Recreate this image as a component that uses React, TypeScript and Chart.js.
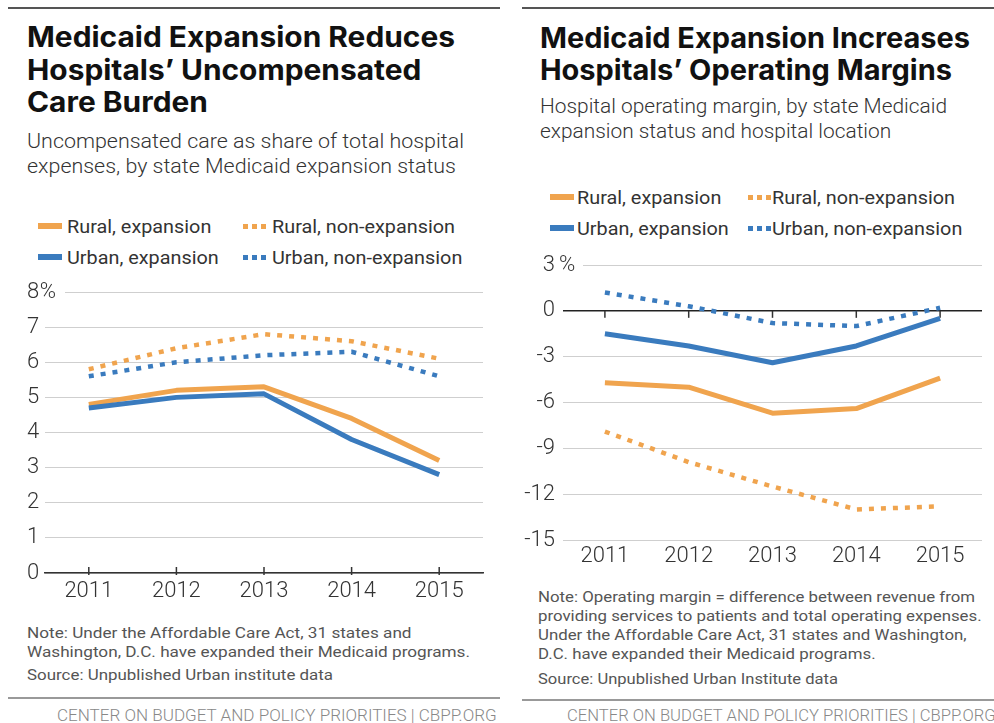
import React, { useEffect, useRef } from 'react';
import { Chart, registerables } from 'chart.js';

Chart.register(...registerables);

// ---------- data ----------
const years = ['2011', '2012', '2013', '2014', '2015'];
const seriesLabels = ['Rural, expansion', 'Rural, non-expansion', 'Urban, expansion', 'Urban, non-expansion'];

// Left: uncompensated care as share of total hospital expenses (%)
const ucRuralExpansion = [4.8, 5.2, 5.3, 4.4, 3.2];
const ucRuralNonExpansion = [5.8, 6.4, 6.8, 6.6, 6.1];
const ucUrbanExpansion = [4.7, 5.0, 5.1, 3.8, 2.8];
const ucUrbanNonExpansion = [5.6, 6.0, 6.2, 6.3, 5.6];
const ucTicks = [0, 1, 2, 3, 4, 5, 6, 7, 8];

// Right: hospital operating margin (%)
const omRuralExpansion = [-4.7, -5.0, -6.7, -6.4, -4.4];
const omRuralNonExpansion = [-7.9, -9.9, -11.5, -13.0, -12.8];
const omUrbanExpansion = [-1.5, -2.3, -3.4, -2.3, -0.5];
const omUrbanNonExpansion = [1.2, 0.3, -0.8, -1.0, 0.2];
const omTicks = [3, 0, -3, -6, -9, -12, -15];

// ---------- styles ----------
const ORANGE = '#F0A44E';
const BLUE = '#3A7BBE';
const TICK_FONT = { family: 'Roboto', size: 22, weight: '300' as const };
const TICK_CSS = '300 22px Roboto';
const TICK_COLOR = '#333';

let mctx: CanvasRenderingContext2D | null = null;
function textWidth(t: string, font: string) {
  if (!mctx) mctx = document.createElement('canvas').getContext('2d');
  mctx!.font = font;
  return mctx!.measureText(t).width;
}

function ds(label: string, data: number[], color: string, dotted: boolean) {
  return {
    label,
    data,
    borderColor: color,
    backgroundColor: color,
    borderWidth: dotted ? 4.5 : 5,
    borderDash: dotted ? [5, 7] : [],
    borderCapStyle: 'butt',
    borderJoinStyle: 'round',
    pointRadius: 0,
    pointHoverRadius: 0,
    tension: 0,
    fill: false,
  };
}

function tickMarks(value: number, up: number, down: number) {
  return {
    id: 'tickMarks',
    beforeDatasetsDraw(chart: any) {
      const { ctx, scales } = chart;
      const x = scales.x;
      const y = scales.y;
      const py = y.getPixelForValue(value);
      ctx.save();
      ctx.strokeStyle = '#333';
      ctx.lineWidth = 1.5;
      years.forEach((_, i) => {
        const px = x.getPixelForValue(i);
        ctx.beginPath();
        ctx.moveTo(px, py - up);
        ctx.lineTo(px, py + down);
        ctx.stroke();
      });
      ctx.restore();
    },
  };
}

// draws the "%" after the top tick label and clears the gridline under it
function percentSign(value: number, side: 'left' | 'right', gap: number, clearTo: number) {
  return {
    id: 'percentSign',
    beforeDatasetsDraw(chart: any) {
      const { ctx, chartArea, scales } = chart;
      const y = scales.y;
      const py = y.getPixelForValue(value);
      ctx.save();
      ctx.font = TICK_CSS;
      let x0: number;
      if (side === 'left') x0 = y.left + ctx.measureText(String(value)).width + gap;
      else x0 = y.right - 8 + gap;
      ctx.fillStyle = '#fff';
      ctx.fillRect(x0 - 1, py - 2, chartArea.left + clearTo - x0 + 1, 4);
      ctx.fillStyle = TICK_COLOR;
      ctx.textAlign = 'left';
      ctx.textBaseline = 'middle';
      ctx.fillText('%', x0, py);
      ctx.restore();
    },
  };
}

function leftConfig(): any {
  return {
    type: 'line',
    data: {
      labels: years,
      datasets: [
        ds(seriesLabels[2], ucUrbanExpansion, BLUE, false),
        ds(seriesLabels[0], ucRuralExpansion, ORANGE, false),
        ds(seriesLabels[3], ucUrbanNonExpansion, BLUE, true),
        ds(seriesLabels[1], ucRuralNonExpansion, ORANGE, true),
      ],
    },
    options: {
      responsive: false,
      animation: false,
      devicePixelRatio: 1,
      layout: { padding: { top: 24, right: 4, left: 0, bottom: 0 } },
      plugins: { legend: { display: false }, tooltip: { enabled: false }, title: { display: false } },
      scales: {
        x: {
          type: 'category',
          offset: true,
          grid: { display: true, drawOnChartArea: false, drawTicks: false },
          border: { display: true, color: '#333', width: 1.5 },
          ticks: { font: TICK_FONT, color: TICK_COLOR, padding: 5, maxRotation: 0, autoSkip: false },
          afterFit: (s: any) => { s.height = 30; },
        },
        y: {
          min: Math.min(...ucTicks),
          max: Math.max(...ucTicks),
          grid: { color: '#cfcfcf', lineWidth: 1, drawTicks: false },
          border: { display: false },
          ticks: { font: TICK_FONT, color: TICK_COLOR, crossAlign: 'far', padding: 0, callback: (v: any) => String(v) },
          afterBuildTicks: (s: any) => { s.ticks = ucTicks.map((v) => ({ value: v })); },
          afterFit: (s: any) => { s.width = 18; },
        },
      },
    },
    plugins: [tickMarks(0, 6, 2), percentSign(Math.max(...ucTicks), 'left', 0.5, 20)],
  };
}

function rightConfig(): any {
  return {
    type: 'line',
    data: {
      labels: years,
      datasets: [
        ds(seriesLabels[0], omRuralExpansion, ORANGE, false),
        ds(seriesLabels[1], omRuralNonExpansion, ORANGE, true),
        ds(seriesLabels[2], omUrbanExpansion, BLUE, false),
        ds(seriesLabels[3], omUrbanNonExpansion, BLUE, true),
      ],
    },
    options: {
      responsive: false,
      animation: false,
      devicePixelRatio: 1,
      layout: { padding: { top: 22, right: 4, left: 0, bottom: 0 } },
      plugins: { legend: { display: false }, tooltip: { enabled: false }, title: { display: false } },
      scales: {
        x: {
          type: 'category',
          offset: true,
          grid: { display: false, drawTicks: false },
          border: { display: false },
          ticks: { font: TICK_FONT, color: TICK_COLOR, padding: 3, maxRotation: 0, autoSkip: false },
          afterFit: (s: any) => { s.height = 30; },
        },
        y: {
          min: Math.min(...omTicks),
          max: Math.max(...omTicks),
          grid: {
            color: (c: any) => (c.tick && c.tick.value === 0 ? '#222' : '#cfcfcf'),
            lineWidth: (c: any) => (c.tick && c.tick.value === 0 ? 1.6 : 1),
            drawTicks: false,
          },
          border: { display: false },
          ticks: { font: TICK_FONT, color: TICK_COLOR, padding: 8, callback: (v: any) => String(v) },
          afterBuildTicks: (s: any) => { s.ticks = omTicks.slice().sort((a, b) => a - b).map((v) => ({ value: v })); },
          afterFit: (s: any) => { s.width = 48; },
        },
      },
    },
    plugins: [tickMarks(0, 0, 7), percentSign(Math.max(...omTicks), 'right', 4, 20)],
  };
}

function ChartBox({ left, top, width, height, make }: any) {
  const ref = useRef<HTMLCanvasElement>(null);
  useEffect(() => {
    if (!ref.current) return;
    const chart = new Chart(ref.current, make());
    return () => chart.destroy();
  }, []);
  return (
    <canvas
      ref={ref}
      width={width}
      height={height}
      style={{ position: 'absolute', left, top, width, height }}
    />
  );
}

function Lines({ x, y, step = 0, lines, weight, size, family, color, fit }: any) {
  const font = `${weight} ${size}px ${family}`;
  const scale = fit ? fit[1] / textWidth(lines[fit[0]], font) : 1;
  const lh = Math.round(size * 1.3);
  return (
    <>
      {lines.map((t: string, i: number) => (
        <div
          key={i}
          style={{
            position: 'absolute',
            left: x,
            top: y + i * step - lh / 2,
            height: lh,
            fontFamily: family,
            fontWeight: weight,
            fontSize: size,
            lineHeight: lh + 'px',
            color,
            whiteSpace: 'nowrap',
            transform: `scaleX(${scale})`,
            transformOrigin: '0 50%',
          }}
        >
          {t}
        </div>
      ))}
    </>
  );
}

function Swatch({ x, y, color, dotted }: any) {
  if (!dotted) {
    return <div style={{ position: 'absolute', left: x, top: y - 3, width: 24, height: 6, background: color }} />;
  }
  return (
    <>
      {[0, 1, 2].map((i) => (
        <div key={i} style={{ position: 'absolute', left: x + i * 9, top: y - 2.5, width: 5, height: 5, background: color }} />
      ))}
    </>
  );
}

function Legend({ col1, col2, text1, text2, row1, row2 }: any) {
  const items = [
    { label: seriesLabels[0], color: ORANGE, dotted: false, sx: col1, tx: text1, y: row1 },
    { label: seriesLabels[1], color: ORANGE, dotted: true, sx: col2, tx: text2, y: row1 },
    { label: seriesLabels[2], color: BLUE, dotted: false, sx: col1, tx: text1, y: row2 },
    { label: seriesLabels[3], color: BLUE, dotted: true, sx: col2, tx: text2, y: row2 },
  ];
  const font = '400 18px Roboto';
  const scale = 183 / textWidth(seriesLabels[1], font);
  return (
    <>
      {items.map((it, i) => (
        <React.Fragment key={i}>
          <Swatch x={it.sx} y={it.y} color={it.color} dotted={it.dotted} />
          <div
            style={{
              position: 'absolute',
              left: it.tx,
              top: it.y + 1 - 12,
              height: 24,
              lineHeight: '24px',
              fontFamily: 'Roboto',
              fontWeight: 400,
              fontSize: 18,
              color: '#333',
              whiteSpace: 'nowrap',
              transform: `scaleX(${scale})`,
              transformOrigin: '0 50%',
            }}
          >
            {it.label}
          </div>
        </React.Fragment>
      ))}
    </>
  );
}

const footer = 'CENTER ON BUDGET AND POLICY PRIORITIES | CBPP.ORG';

export default function App() {
  return (
    <div style={{ position: 'fixed', left: 0, top: 0, width: 994, height: 723, overflow: 'hidden', background: '#fff' }}>
      {/* frame lines */}
      <div style={{ position: 'absolute', left: 8, top: 7, width: 492, height: 2, background: '#555' }} />
      <div style={{ position: 'absolute', left: 522, top: 7, width: 472, height: 2, background: '#555' }} />
      <div style={{ position: 'absolute', left: 8, top: 697, width: 492, height: 2, background: '#999' }} />
      <div style={{ position: 'absolute', left: 522, top: 699, width: 472, height: 2, background: '#999' }} />

      {/* LEFT PANEL */}
      <Lines
        x={27} y={37} step={32.5}
        lines={['Medicaid Expansion Reduces', 'Hospitals\u2019 Uncompensated', 'Care Burden']}
        weight={700} size={28} family="Inter" color="#111" fit={[0, 428]}
      />
      <Lines
        x={27} y={141.5} step={25}
        lines={['Uncompensated care as share of total hospital', 'expenses, by state Medicaid expansion status']}
        weight={300} size={21} family="Roboto" color="#333" fit={[0, 437]}
      />
      <Legend col1={38} col2={243} text1={67} text2={272} row1={226} row2={257} />
      <ChartBox left={27} top={268} width={460} height={335} make={leftConfig} />
      <Lines
        x={27} y={633} step={19}
        lines={['Note: Under the Affordable Care Act, 31 states and', 'Washington, D.C. have expanded their Medicaid programs.']}
        weight={400} size={15} family="Roboto" color="#555" fit={[1, 443]}
      />
      <Lines
        x={27} y={675}
        lines={['Source: Unpublished Urban institute data']}
        weight={400} size={15} family="Roboto" color="#555" fit={[0, 306]}
      />
      <Lines x={57} y={715} lines={[footer]} weight={300} size={16} family="Roboto" color="#888" fit={[0, 440]} />

      {/* RIGHT PANEL */}
      <Lines
        x={540} y={37.5} step={32.5}
        lines={['Medicaid Expansion Increases', 'Hospitals\u2019 Operating Margins']}
        weight={700} size={28} family="Inter" color="#111" fit={[0, 430]}
      />
      <Lines
        x={540} y={106} step={25.5}
        lines={['Hospital operating margin, by state Medicaid', 'expansion status and hospital location']}
        weight={300} size={21} family="Roboto" color="#333" fit={[0, 407]}
      />
      <Legend col1={550} col2={748} text1={577} text2={772} row1={197} row2={228} />
      <ChartBox left={515} top={243} width={471} height={327} make={rightConfig} />
      <Lines
        x={538} y={597} step={19}
        lines={[
          'Note: Operating margin = difference between revenue from',
          'providing services to patients and total operating expenses.',
          'Under the Affordable Care Act, 31 states and Washington,',
          'D.C. have expanded their Medicaid programs.',
        ]}
        weight={400} size={15} family="Roboto" color="#555" fit={[0, 437]}
      />
      <Lines
        x={538} y={679}
        lines={['Source: Unpublished Urban Institute data']}
        weight={400} size={15} family="Roboto" color="#555" fit={[0, 300]}
      />
      <Lines x={567} y={715} lines={[footer]} weight={300} size={16} family="Roboto" color="#888" fit={[0, 429]} />
    </div>
  );
}
